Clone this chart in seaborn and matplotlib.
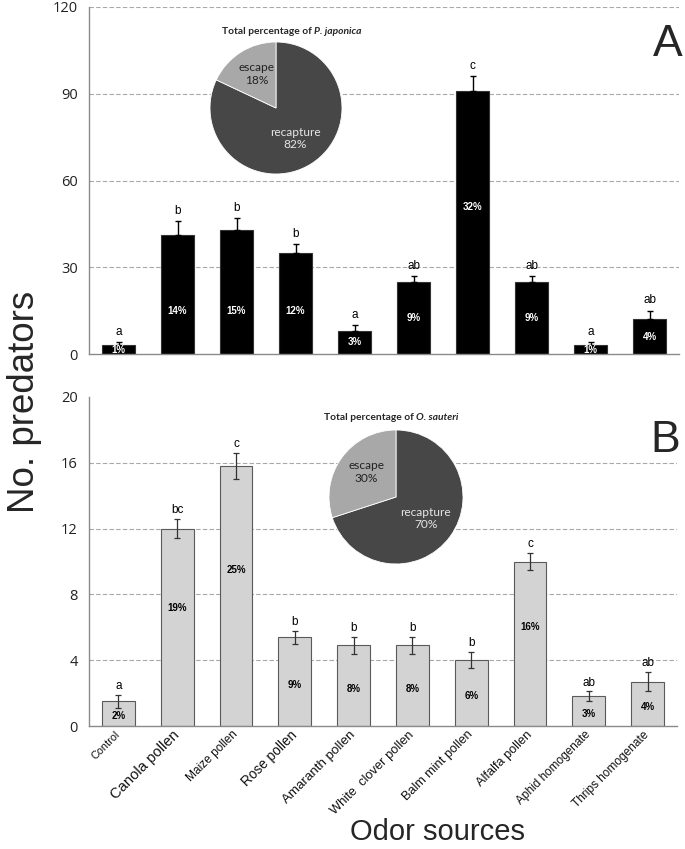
import numpy as np
import matplotlib
matplotlib.use("Agg")
import matplotlib.pyplot as plt
import seaborn as sns

# data
sources = ["Control", "Canola pollen", "Maize pollen", "Rose pollen", "Amaranth pollen",
           "White  clover pollen", "Balm mint pollen", "Alfalfa pollen",
           "Aphid homogenate", "Thrips homogenate"]

pj_counts = [3, 41, 43, 35, 8, 25, 91, 25, 3, 12]
pj_err = [1, 5, 4, 3, 2, 2, 5, 2, 1, 3]
pj_letters = ["a", "b", "b", "b", "a", "ab", "c", "ab", "a", "ab"]
pj_pct = ["1%", "14%", "15%", "12%", "3%", "9%", "32%", "9%", "1%", "4%"]

os_counts = [1.5, 12.0, 15.8, 5.4, 4.9, 4.9, 4.0, 10.0, 1.8, 2.7]
os_err = [0.4, 0.6, 0.8, 0.4, 0.5, 0.5, 0.5, 0.5, 0.3, 0.6]
os_letters = ["a", "bc", "c", "b", "b", "b", "b", "c", "ab", "ab"]
os_pct = ["2%", "19%", "25%", "9%", "8%", "8%", "6%", "16%", "3%", "4%"]

pie_labels = ["recapture", "escape"]
pj_pie = [82, 18]
os_pie = [70, 30]

# tick label sizes vary in the original
label_sizes = [7.8, 10.6, 8.6, 9.8, 9.6, 9.3, 9.1, 9.2, 8.5, 8.6]

sns.set_style("white")
plt.rcParams["font.family"] = ["Liberation Sans", "DejaVu Sans"]

W, H = 685, 849
fig = plt.figure(figsize=(W / 100, H / 100), dpi=100)


def fx(px):
    return px / W


def fy(py):
    return 1 - py / H


axA = fig.add_axes([fx(89), fy(354), fx(679 - 89), (354 - 7) / H])
axB = fig.add_axes([fx(89), fy(726), fx(677 - 89), (726 - 397) / H])


def style_axis(ax, ymax, step, skip_top_grid):
    ax.set_xlim(-0.5, len(sources) - 0.5)
    ax.set_ylim(0, ymax)
    ax.set_yticks(np.arange(0, ymax + step / 2, step))
    for s in ["top", "right"]:
        ax.spines[s].set_visible(False)
    for s in ["left", "bottom"]:
        ax.spines[s].set_color("#8a8a8a")
        ax.spines[s].set_linewidth(1)
    ax.tick_params(axis="y", length=4, color="#8a8a8a", labelsize=10.5,
                   labelcolor="#222222", pad=4)
    for t in ax.get_yticklabels():
        t.set_family("Open Sans")
    ax.set_xticks(np.arange(-0.5, len(sources), 1), minor=True)
    ax.tick_params(axis="x", which="minor", length=5, color="#8a8a8a", direction="out")
    ax.tick_params(axis="x", which="major", length=0)
    ax.set_ylabel("")
    ax.set_xlabel("")
    ticks = ax.get_yticks()
    for t in ticks[1:]:
        if skip_top_grid and t == ymax:
            continue
        ax.axhline(t, color="#a8a8a8", lw=0.8, ls=(0, (4, 2)), zorder=0)


# panel A
sns.barplot(x=sources, y=pj_counts, ax=axA, color="black", saturation=1,
            width=0.56, edgecolor="#333333", linewidth=0.8, zorder=2)
axA.errorbar(range(len(sources)), pj_counts, yerr=[np.zeros(len(pj_err)), pj_err],
             fmt="none", ecolor="black", elinewidth=1, capsize=2.2, capthick=1, zorder=3)
style_axis(axA, 120, 30, False)
axA.set_xticks(range(len(sources)))
axA.set_xticklabels([])

for i, v in enumerate(pj_counts):
    axA.annotate(pj_letters[i], (i, v + pj_err[i]), xytext=(0, 3), textcoords="offset points",
                 ha="center", va="bottom", fontsize=8.5, color="black")
    if v < 30:
        yp = v * 0.5
    elif v < 60:
        yp = 15
    else:
        yp = v * 0.56
    axA.text(i, yp, pj_pct[i], ha="center", va="center", fontsize=7,
             fontweight="bold", color="white", zorder=4)

# panel B
sns.barplot(x=sources, y=os_counts, ax=axB, color="#d3d3d3", saturation=1,
            width=0.56, edgecolor="#5a5a5a", linewidth=0.8, zorder=2)
axB.errorbar(range(len(sources)), os_counts, yerr=os_err, fmt="none", ecolor="#333333",
             elinewidth=0.9, capsize=2, capthick=0.9, zorder=3)
style_axis(axB, 20, 4, True)
axB.set_xticks(range(len(sources)))
axB.set_xticklabels(sources, rotation=45, ha="right", va="center", rotation_mode="anchor")
axB.tick_params(axis="x", which="major", pad=5)
for t, s in zip(axB.get_xticklabels(), label_sizes):
    t.set_fontsize(s)
    t.set_color("#111111")

for i, v in enumerate(os_counts):
    axB.annotate(os_letters[i], (i, v + os_err[i]), xytext=(0, 2), textcoords="offset points",
                 ha="center", va="bottom", fontsize=8.5, color="black")
    if v < 3:
        yp = v * 0.42
    elif v < 8:
        yp = v * 0.46
    else:
        yp = v * 0.6
    axB.text(i, yp, os_pct[i], ha="center", va="center", fontsize=7,
             fontweight="bold", color="black", zorder=4)


# pie insets
def draw_pie(cx, cy, r, values, title_a, title_b, split_x, title_y):
    pax = fig.add_axes([fx(cx - r), fy(cy + r), (2 * r) / W, (2 * r) / H])
    wedges, texts = pax.pie(values, labels=[f"{l}\n{v}%" for l, v in zip(pie_labels, values)],
                            colors=["#474747", "#a8a8a8"], startangle=90, counterclock=False,
                            labeldistance=0.55,
                            wedgeprops=dict(edgecolor="white", linewidth=0.6),
                            textprops=dict(fontsize=8.6, family="Lato"))
    texts[0].set_color("#e6e6e6")
    texts[1].set_color("#222222")
    x1, y1 = texts[1].get_position()
    texts[1].set_position((x1, y1 + 0.05))
    for t in texts:
        t.set_ha("center")
        t.set_va("center")
        t.set_linespacing(1.15)
    pax.set_xlim(-1.0, 1.0)
    pax.set_ylim(-1.0, 1.0)
    pax.set_aspect("equal")
    fig.text(fx(split_x), fy(title_y), title_a, ha="right", va="center", fontsize=7.4,
             fontweight="bold", family="Lato")
    fig.text(fx(split_x), fy(title_y), title_b, ha="left", va="center", fontsize=7.4,
             fontweight="bold", style="italic", family="Lato")


draw_pie(276, 108, 66, pj_pie, "Total percentage of ", "P. japonica", 314, 31)
draw_pie(396, 497, 67, os_pie, "Total percentage of ", "O. sauteri", 416, 418)

# panel letters and axis titles
fig.text(fx(668), fy(44), "A", fontsize=32, ha="center", va="center")
fig.text(fx(665), fy(440), "B", fontsize=32, ha="center", va="center")
fig.text(fx(25), fy(402), "No. predators", rotation=90, fontsize=26.5, ha="center", va="center")
fig.text(fx(438), fy(840), "Odor sources", fontsize=21, ha="center", va="baseline")

fig.savefig("out.png", dpi=100)
